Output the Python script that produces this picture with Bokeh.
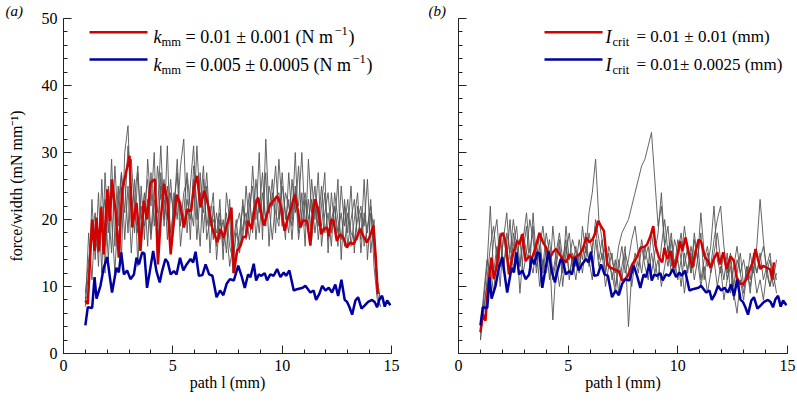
from bokeh.plotting import figure
from bokeh.layouts import row
from bokeh.models import Range1d, FixedTicker, Label, CustomLabelingPolicy
from bokeh.embed import file_html
from bokeh.resources import INLINE

FONT = "Liberation Serif"

# ---------------- data ----------------
# panel (a): red trace  k_mm = 0.01 +- 0.001
red_a_x = [1.0,1.11,1.31,1.42,1.51,1.62,1.72,1.84,2.0,2.12,2.22,2.38,2.53,2.68,2.84,3.02,3.14,3.34,3.52,3.67,
           3.82,3.98,4.18,4.32,4.44,4.6,4.75,4.9,5.05,5.17,5.33,5.51,5.66,5.84,5.96,6.11,6.26,6.44,6.6,6.8,
           7.03,7.18,7.33,7.46,7.58,7.68,7.79,7.94,8.1,8.2,8.35,8.44,8.6,8.75,8.9,9.05,9.16,9.31,9.46,9.61,
           9.77,9.92,10.11,10.27,10.42,10.57,10.72,10.83,10.94,11.14,11.29,11.4,11.52,11.67,11.79,11.9,12.05,12.13,12.25,12.35,
           12.5,12.65,12.8,12.96,13.11,13.26,13.41,13.56,13.72,13.87,14.02,14.17,14.28,14.37]
red_a_y = [7.9,7.4,20.0,15.3,20.3,15.3,21.8,14.8,24.5,19.8,26.0,21.3,14.3,24.5,26.7,29.5,18.8,22.5,15.3,22.8,
           20.0,25.5,26.0,13.3,19.8,25.3,22.8,14.8,19.8,23.7,22.5,18.8,21.5,21.3,24.8,26.5,21.8,24.3,22.3,18.8,
           16.6,18.6,17.3,19.1,20.3,21.8,12.0,15.3,16.1,17.3,17.5,19.8,18.6,21.8,23.3,20.8,19.1,20.8,22.3,22.8,
           23.5,22.3,18.3,20.3,21.8,23.7,21.3,18.8,19.8,19.8,16.1,21.3,23.0,21.0,17.8,18.6,18.8,17.5,20.0,19.8,
           16.8,17.8,17.3,15.8,16.6,16.3,17.3,18.6,17.5,16.6,17.5,19.1,14.3,8.9]

# blue trace (same run in both panels)
blue_x = [1.0,1.11,1.31,1.42,1.51,1.69,1.84,2.0,2.12,2.22,2.42,2.53,2.64,2.76,2.91,3.06,3.22,3.34,3.45,3.6,
          3.7,3.82,3.95,4.1,4.25,4.4,4.51,4.66,4.77,4.9,5.05,5.17,5.33,5.48,5.63,5.81,5.93,6.04,6.19,6.35,
          6.5,6.66,6.81,7.0,7.16,7.31,7.46,7.61,7.79,7.99,8.14,8.29,8.44,8.55,8.7,8.81,8.93,9.05,9.2,9.31,
          9.46,9.61,9.77,9.92,10.07,10.18,10.33,10.53,10.68,10.94,11.06,11.29,11.44,11.55,11.7,11.83,11.98,12.13,12.28,12.43,
          12.56,12.71,12.86,12.97,13.08,13.2,13.35,13.47,13.63,13.78,13.93,14.11,14.23,14.34,14.45,14.57,14.69,14.8,14.95]
blue_y = [4.2,6.9,6.8,11.4,8.2,10.1,12.8,14.4,11.4,9.1,12.8,12.1,15.1,11.8,12.4,11.1,11.8,14.3,13.3,15.1,
          14.9,9.8,12.3,15.3,12.3,10.6,12.3,14.1,13.6,11.8,12.3,11.8,14.3,12.4,13.3,14.1,13.6,15.2,11.6,11.7,
          13.3,11.8,11.6,8.4,9.4,8.7,10.4,11.1,10.9,13.1,11.6,9.8,11.8,11.4,13.4,10.9,11.8,11.6,12.0,10.9,
          11.8,11.6,12.6,11.4,12.1,11.6,12.4,9.4,9.6,9.8,10.1,9.1,9.4,8.0,8.9,10.1,9.4,9.8,9.1,10.3,
          8.6,11.0,8.0,7.7,6.9,5.8,7.9,8.4,6.7,7.2,7.7,8.0,7.7,6.9,8.1,8.6,7.0,7.9,7.2]

# panel (b): red trace  l_crit = 0.01 +- 0.01
red_b_x = [1.0,1.11,1.23,1.34,1.5,1.61,1.76,1.92,2.02,2.14,2.3,2.42,2.52,2.68,2.78,2.9,3.06,3.21,3.36,3.51,
           3.69,3.85,4.0,4.15,4.3,4.45,4.61,4.76,4.91,5.06,5.21,5.37,5.52,5.67,5.82,5.97,6.1,6.22,6.37,6.48,
           6.63,6.78,6.93,7.08,7.31,7.46,7.6,7.72,7.92,8.12,8.3,8.48,8.6,8.75,8.88,8.98,9.14,9.29,9.39,9.52,
           9.67,9.82,9.94,10.1,10.2,10.35,10.51,10.66,10.81,10.96,11.07,11.22,11.37,11.49,11.64,11.8,11.92,12.07,12.22,12.4,
           12.56,12.68,12.83,12.98,13.13,13.29,13.44,13.54,13.65,13.77,13.89,14.04,14.2,14.3,14.38]
red_b_y = [3.2,5.9,4.9,9.8,14.3,11.1,13.3,17.5,18.0,16.8,11.8,13.8,15.3,16.8,16.3,17.8,13.8,14.5,14.3,15.8,
           18.0,16.6,15.8,14.1,15.1,15.6,14.8,14.1,13.6,14.8,14.1,14.5,14.8,15.6,17.3,16.6,17.0,17.8,19.8,19.1,
           18.3,13.3,12.8,12.6,12.3,10.9,11.1,11.6,13.3,14.3,15.8,15.9,16.3,17.5,19.0,16.1,14.3,13.6,15.8,14.1,
           15.3,12.8,13.8,16.8,15.3,17.3,14.8,12.8,15.3,17.0,16.6,14.5,13.8,12.8,14.1,15.1,13.3,15.1,12.6,14.5,
           13.8,11.4,10.4,10.4,11.1,12.6,13.8,15.6,14.1,12.6,13.1,12.8,12.6,11.1,13.6]

# individual runs (grey), sampled every 0.15 mm from 1.0 to 14.5 mm
gray_x = [round(1.0 + 0.15 * i, 2) for i in range(91)]

gray_a = [
    [8,9,23,14,24,12,27,18,29,16, 25,14,30,34,20,26,13,25,17,29, 22,30,14,27,19,31,15,24,20,28,
     32,18,25,31,20,27,18,25,15,22, 16,23,14,24,20,12,19,21,17,25, 19,28,20,30,17,32,21,26,18,29,
     22,17,27,20,30,18,24,16,29,21, 25,17,22,27,15,24,19,26,14,23, 18,25,15,22,17,26,14,21,16,9,7],
    [9,14,18,21,13,26,16,22,15,28, 19,27,21,31,24,18,27,20,24,16, 27,19,28,23,26,17,24,21,29,19,
     24,26,17,28,22,16,26,19,22,17, 21,17,20,15,23,13,15,18,22,19, 24,18,26,21,27,19,25,22,28,20,
     25,21,18,26,21,28,19,23,18,26, 20,27,16,21,24,18,22,16,25,19, 23,16,20,24,15,21,18,23,13,8,7],
    [7,18,11,20,17,22,12,25,20,12, 22,27,17,25,15,23,28,16,22,26, 18,25,21,31,20,25,18,22,27,16,
     21,27,22,19,31,22,28,17,20,24, 14,20,17,21,16,14,18,16,23,17, 22,25,17,23,20,27,16,24,21,19,
     27,20,23,17,24,22,30,19,23,17, 22,19,25,18,21,16,24,20,17,22, 16,20,23,17,21,19,26,15,20,10,8],
    [8,12,20,17,15,20,23,14,24,22, 17,22,26,18,29,21,18,22,19,23, 17,23,19,25,23,20,26,19,23,21,
     19,23,20,26,17,24,21,27,19,20, 18,21,16,19,13,16,20,15,19,21, 17,21,23,18,24,20,22,17,23,24,
     19,24,22,19,25,17,21,24,20,23, 18,22,19,24,17,20,22,18,21,16, 21,18,17,20,22,16,19,22,18,11,8],
]

gray_b = [
    [2,8,13,22,12,16,10,18,14,20, 12,17,9,15,19,13,21,14,18,12, 16,11,19,14,17,10,15,18,13,16,
     12,19,15,21,24,29,20,17,12,16, 14,12,16,18,19,20,22,24,26,28, 29,31,33,26,19,22,16,19,13,17,
     15,18,13,16,12,17,14,18,11,15, 13,17,20,22,16,12,15,10,14,12, 9,13,11,15,12,14,16,13,15,11,14],
    [3,6,11,16,19,14,17,12,18,15, 20,16,13,18,15,20,17,13,16,19, 14,17,12,15,18,14,17,11,15,13,
     17,14,18,13,16,19,14,17,12,15, 11,14,9,13,16,4,12,15,13,17, 14,16,12,15,18,24,16,13,17,12,
     14,10,15,12,16,13,17,11,14,16, 12,15,18,14,11,15,9,13,16,12, 14,11,15,12,16,23,17,12,14,10,12],
    [4,9,14,11,17,20,13,17,21,14, 16,19,13,17,21,15,19,12,16,13, 18,15,5,13,16,12,19,14,17,15,
     13,16,14,18,15,20,17,14,16,13, 15,10,13,16,12,14,17,19,15,12, 16,13,18,14,11,16,20,15,18,13,
     17,14,19,15,12,18,14,21,15,13, 16,22,14,12,15,11,14,8,12,15, 10,13,9,14,12,15,11,13,10,12,9],
    [2,7,10,13,9,15,18,13,16,12, 18,14,17,12,15,14,12,16,10,14, 12,15,11,14,10,13,16,12,14,11,
     15,12,16,14,11,17,13,15,10,13, 12,9,14,11,15,13,10,14,12,16, 13,11,15,12,14,10,13,16,12,14,
     11,14,9,13,15,11,14,10,13,9, 12,14,10,13,8,11,13,9,6,11, 8,12,10,13,9,11,8,12,10,13,11],
]

x_major = [0, 5, 10, 15]
x_minor = list(range(0, 16))
y_major = [0, 10, 20, 30, 40, 50]
y_minor = list(range(0, 51, 2))

RED = "#d40000"
BLUE = "#0000a0"
GREY = "#555555"
TXT = 18
SUB = 12.5
FRAME_BOTTOM = 353  # canvas pixel row of y = 0


def make_panel(width, border_left, border_right, show_ylabels, tag, tag_offset):
    p = figure(width=width, height=404, x_range=Range1d(0, 15), y_range=Range1d(0, 50),
               output_backend="svg", toolbar_location=None,
               min_border_left=border_left, min_border_right=border_right,
               min_border_top=17, min_border_bottom=51)
    p.outline_line_color = None
    p.grid.visible = False
    p.background_fill_color = "white"
    p.title.text = tag
    p.title.text_font = FONT
    p.title.text_font_size = "15px"
    p.title.text_font_style = "italic"
    p.title.text_color = "black"
    p.title.align = "left"
    p.title.offset = tag_offset
    p.title.standoff = 0
    for ax in (p.xaxis[0], p.yaxis[0]):
        ax.axis_line_color = "#222222"
        ax.major_tick_line_color = "#222222"
        ax.minor_tick_line_color = "#222222"
        ax.major_tick_in = 8
        ax.major_tick_out = 0
        ax.minor_tick_in = 4
        ax.minor_tick_out = 0
        ax.major_label_text_font = FONT
        ax.major_label_text_font_size = "16px"
        ax.major_label_text_color = "black"
        ax.axis_label_text_font = FONT
        ax.axis_label_text_font_size = "16px"
        ax.axis_label_text_font_style = "normal"
        ax.axis_label_text_color = "black"
    p.xaxis.ticker = FixedTicker(ticks=x_major, minor_ticks=x_minor)
    p.yaxis.ticker = FixedTicker(ticks=y_major, minor_ticks=y_minor)
    p.xaxis.axis_label = "path l (mm)"
    p.xaxis.major_label_standoff = 6
    p.xaxis.axis_label_standoff = 0
    if show_ylabels:
        p.yaxis.axis_label = "force/width (mN mm\u207b\u00b9)"
        p.yaxis.major_label_standoff = 6
        p.yaxis.axis_label_standoff = 14
    else:
        p.yaxis.major_label_policy = CustomLabelingPolicy(
            code="for (const i of Array.from(indices)) { indices.unset(i) } return indices")
    return p


def put(p, sx, sy, text, size=TXT, style="normal"):
    # legend text; sx, sy in pixels from the frame's bottom-left corner
    p.add_layout(Label(x=sx, y=sy, x_units="screen", y_units="screen", text=text,
                       text_font=FONT, text_font_size=f"{size}px", text_font_style=style,
                       text_color="black", text_baseline="alphabetic", text_align="left"))


def legend_line(p, frame_left, frame_w, px0, px1, py, color):
    # legend sample placed in canvas pixels, converted to data units
    x0 = (px0 - frame_left) / frame_w * 15
    x1 = (px1 - frame_left) / frame_w * 15
    y = (FRAME_BOTTOM - py) / 336 * 50
    p.line([x0, x1], [y, y], line_color=color, line_width=2.5)


# ---------------- panel (a) ----------------
pa = make_panel(400, 63, 9, True, "(a)", -58)
for g in gray_a:
    pa.line(gray_x, g, line_color=GREY, line_width=0.9)
pa.line(red_a_x, red_a_y, line_color=RED, line_width=2.5)
pa.line(blue_x, blue_y, line_color=BLUE, line_width=2.5)
legend_line(pa, 63, 328, 89, 147, 30.7, RED)
legend_line(pa, 63, 328, 89, 147, 58, BLUE)
put(pa, 90, 317, "k", style="italic")
put(pa, 98, 312, "mm", size=SUB)
put(pa, 122, 317, "= 0.01 \u00b1 0.001 (N m")
put(pa, 271, 323, "\u22121", size=SUB)
put(pa, 285, 317, ")")
put(pa, 90, 289, "k", style="italic")
put(pa, 98, 284, "mm", size=SUB)
put(pa, 122, 289, "= 0.005 \u00b1 0.0005 (N m")
put(pa, 289, 295, "\u22121", size=SUB)
put(pa, 303, 289, ")")

# ---------------- panel (b) ----------------
pb = make_panel(397, 58, 10, False, "(b)", -30)
for g in gray_b:
    pb.line(gray_x, g, line_color=GREY, line_width=0.9)
pb.line(red_b_x, red_b_y, line_color=RED, line_width=2.5)
pb.line(blue_x, blue_y, line_color=BLUE, line_width=2.5)
legend_line(pb, 458, 329, 544, 602, 30.7, RED)
legend_line(pb, 458, 329, 544, 602, 58, BLUE)
put(pb, 147, 317, "I", style="italic")
put(pb, 154, 312, "crit", size=SUB)
put(pb, 178, 317, "= 0.01 \u00b1 0.01 (mm)", size=17)
put(pb, 147, 289, "I", style="italic")
put(pb, 154, 284, "crit", size=SUB)
put(pb, 178, 289, "= 0.01\u00b1 0.0025 (mm)", size=17)

layout = row(pa, pb)
open("out.html", "w").write(file_html(layout, INLINE))
